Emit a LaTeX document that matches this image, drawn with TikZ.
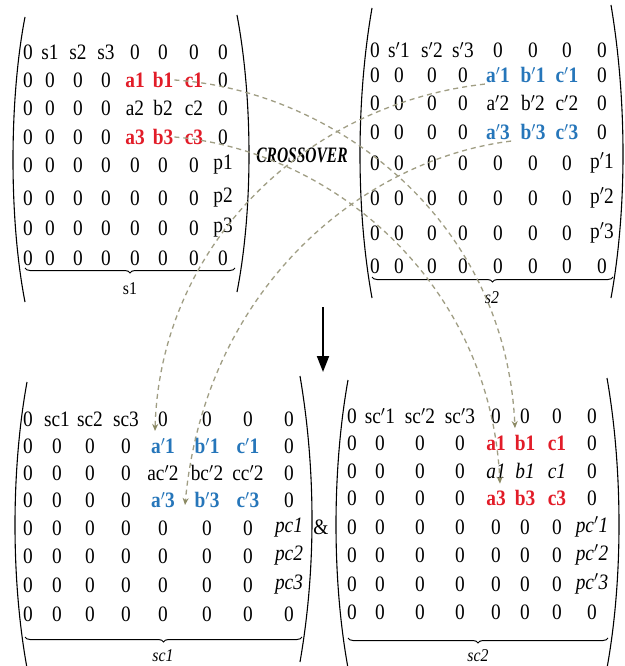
\documentclass[tikz,border=0pt]{standalone}
\usepackage{fontspec}
\setmainfont{Liberation Serif}[FakeStretch=0.88]
\usepackage{graphicx}
\usetikzlibrary{arrows.meta,decorations.pathreplacing,calc}
\definecolor{redc}{RGB}{226,28,40}
\definecolor{bluec}{RGB}{38,118,186}
\definecolor{dashc}{RGB}{160,158,132}
\definecolor{tipc}{RGB}{140,138,100}
\newcommand\redE[1]{\textcolor{redc}{\textbf{#1}}}
\newcommand\blueE[1]{\textcolor{bluec}{\textbf{#1}}}
% #1 matrix name, #2 row index, #3 y, #4 column array, #5 entries
\newcommand\mrow[5]{%
  \foreach \e [count=\c] in {#5} {%
    \pgfmathsetmacro\xx{#4[\c-1]}%
    \node[ent] (#1-#2-\c) at (\xx,#3) {\e};%
  }%
}
\def\colA{{28,50,78,106,135,163,194,223}}
\def\colB{{375,399,432,463,498,533,567,602}}
\def\colC{{28,57,90,126,163,207,248,289}}
\def\colD{{352,380,420,460,496,525,557,592}}
\begin{document}
\begin{tikzpicture}[x=1pt,y=-1pt,
  ent/.style={inner sep=1pt, font=\fontsize{22}{26}\selectfont},
  lab/.style={inner sep=1pt, font=\fontsize{18}{21}\selectfont},
  paren/.style={line width=1.1pt},
  ubrace/.style={decorate, decoration={brace,mirror,amplitude=5pt}, line width=1pt},
  xline/.style={dashc, line width=1.3pt, dash pattern=on 5pt off 4pt,
     -{Stealth[length=7pt,width=6pt,color=tipc]}},
  ]
\useasboundingbox (0,0) rectangle (624,666);
\fill[white] (0,0) rectangle (624,666);

% ---------- matrix s1 ----------
\mrow{A}{1}{52}{\colA}{0,s1,s2,s3,0,0,0,0}
\mrow{A}{2}{80}{\colA}{0,0,0,0,\redE{a1},\redE{b1},\redE{c1},0}
\mrow{A}{3}{108}{\colA}{0,0,0,0,a2,b2,c2,0}
\mrow{A}{4}{137}{\colA}{0,0,0,0,\redE{a3},\redE{b3},\redE{c3},0}
\mrow{A}{5}{165}{\colA}{0,0,0,0,0,0,0,p1}
\mrow{A}{6}{198}{\colA}{0,0,0,0,0,0,0,p2}
\mrow{A}{7}{228}{\colA}{0,0,0,0,0,0,0,p3}
\mrow{A}{8}{258}{\colA}{0,0,0,0,0,0,0,0}
\draw[paren] (25,17) .. controls (9,100) and (9,220) .. (25,302);
\draw[paren] (237,15) .. controls (253,100) and (253,210) .. (237,292);
\draw[ubrace] (25,268) -- (235,268);
\node[lab] (lA) at (130,289) {s1};

% ---------- matrix s2 ----------
\mrow{B}{1}{50}{\colB}{0,s$'$1,s$'$2,s$'$3,0,0,0,0}
\mrow{B}{2}{75}{\colB}{0,0,0,0,\blueE{a$'$1},\blueE{b$'$1},\blueE{c$'$1},0}
\mrow{B}{3}{103}{\colB}{0,0,0,0,a$'$2,b$'$2,c$'$2,0}
\mrow{B}{4}{132}{\colB}{0,0,0,0,\blueE{a$'$3},\blueE{b$'$3},\blueE{c$'$3},0}
\mrow{B}{5}{163}{\colB}{0,0,0,0,0,0,0,p$'$1}
\mrow{B}{6}{198}{\colB}{0,0,0,0,0,0,0,p$'$2}
\mrow{B}{7}{233}{\colB}{0,0,0,0,0,0,0,p$'$3}
\mrow{B}{8}{266}{\colB}{0,0,0,0,0,0,0,0}
\draw[paren] (372,8) .. controls (356,100) and (356,210) .. (372,298);
\draw[paren] (611,5) .. controls (627,100) and (627,210) .. (611,298);
\draw[ubrace] (372,277) -- (613,277);
\node[lab] (lB) at (492,298) {\textit{s2}};

\node[font=\fontsize{22}{26}\selectfont\bfseries\itshape, inner sep=1pt] (cross) at (302,155) {\scalebox{0.8}[1]{CROSSOVER}};

% ---------- matrix sc1 ----------
\mrow{C}{1}{419}{\colC}{0,sc1,sc2,sc3,0,0,0,0}
\mrow{C}{2}{446}{\colC}{0,0,0,0,\blueE{a$'$1},\blueE{b$'$1},\blueE{c$'$1},0}
\mrow{C}{3}{473}{\colC}{0,0,0,0,ac$'$2,bc$'$2,cc$'$2,0}
\mrow{C}{4}{500}{\colC}{0,0,0,0,\blueE{a$'$3},\blueE{b$'$3},\blueE{c$'$3},0}
\mrow{C}{5}{528}{\colC}{0,0,0,0,0,0,0,\textit{pc1}}
\mrow{C}{6}{556}{\colC}{0,0,0,0,0,0,0,\textit{pc2}}
\mrow{C}{7}{585}{\colC}{0,0,0,0,0,0,0,\textit{pc3}}
\mrow{C}{8}{614}{\colC}{0,0,0,0,0,0,0,0}
\draw[paren] (27,382) .. controls (11,470) and (11,580) .. (27,668);
\draw[paren] (300,376) .. controls (316,470) and (316,570) .. (300,662);
\draw[ubrace] (25,637) -- (302,637);
\node[lab] (lC) at (163,656) {\textit{sc1}};

\node[ent] (amp) at (321,527) {\&};

% ---------- matrix sc2 ----------
\mrow{D}{1}{416}{\colD}{0,sc$'$1,sc$'$2,sc$'$3,0,0,0,0}
\mrow{D}{2}{443}{\colD}{0,0,0,0,\redE{a1},\redE{b1},\redE{c1},0}
\mrow{D}{3}{471}{\colD}{0,0,0,0,\textit{a1},\textit{b1},\textit{c1},0}
\mrow{D}{4}{498}{\colD}{0,0,0,0,\redE{a3},\redE{b3},\redE{c3},0}
\mrow{D}{5}{527}{\colD}{0,0,0,0,0,0,0,\textit{pc$'$1}}
\mrow{D}{6}{555}{\colD}{0,0,0,0,0,0,0,\textit{pc$'$2}}
\mrow{D}{7}{584}{\colD}{0,0,0,0,0,0,0,\textit{pc$'$3}}
\mrow{D}{8}{612}{\colD}{0,0,0,0,0,0,0,0}
\draw[paren] (348,380) .. controls (332,470) and (332,580) .. (348,668);
\draw[paren] (607,378) .. controls (623,470) and (623,580) .. (607,668);
\draw[ubrace] (348,638) -- (608,638);
\node[lab] (lD) at (478,656) {\textit{sc2}};

% ---------- main arrow ----------
\coordinate (dnS) at (323,307);
\coordinate (dnE) at (323,372);
\draw[line width=2pt, -{Triangle[length=16pt,width=12pt]}] (dnS) -- (dnE);

% ---------- crossover connectors ----------
\draw[xline] (A-2-6.east) .. controls (330,90) and (505,215) .. ([xshift=-10pt,yshift=6pt]D-2-6.north);
\draw[xline] (A-4-6.east) .. controls (330,150) and (490,280) .. ([xshift=4pt,yshift=-4pt]D-3-5.south);
\draw[xline] (B-2-5.south west) .. controls (300,105) and (160,250) .. ([xshift=-8pt,yshift=6pt]C-2-5.north);
\draw[xline] (B-4-5.south east) .. controls (360,160) and (205,290) .. ($(C-4-5)!0.5!(C-4-6)+(0,5)$);
\end{tikzpicture}
\end{document}
